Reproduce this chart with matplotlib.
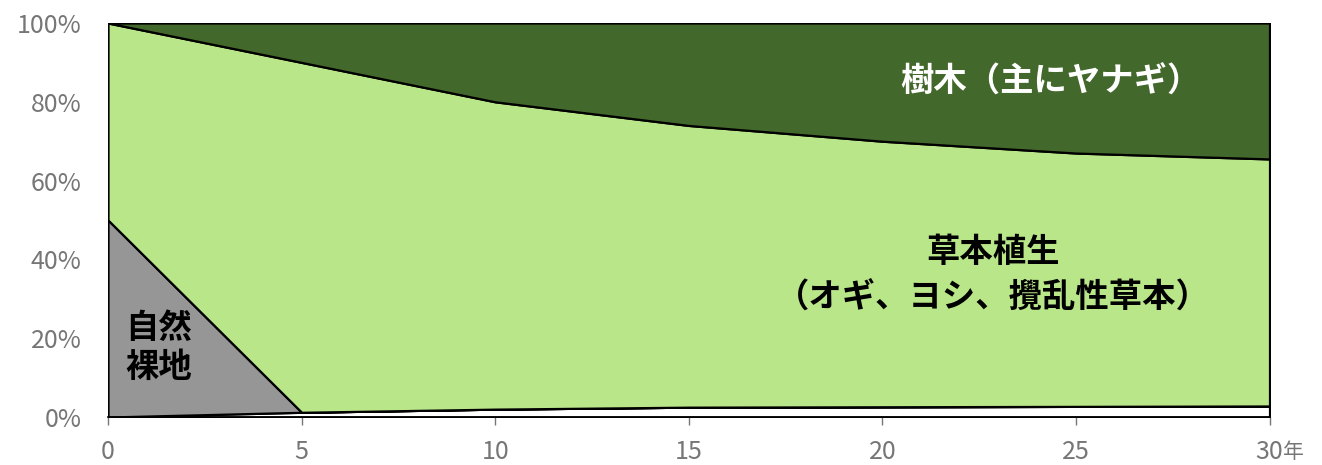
import matplotlib
matplotlib.use("Agg")
import matplotlib.pyplot as plt
from matplotlib.ticker import FuncFormatter

plt.rcParams['font.family'] = ['Noto Sans CJK JP', 'DejaVu Sans']

# 経過年数と各被覆の割合(%)
years = [0, 5, 10, 15, 20, 25, 30]
other = [0, 1.2, 2.0, 2.5, 2.6, 2.7, 2.8]
bare = [50, 0, 0, 0, 0, 0, 0]
grass = [50, 88.8, 78.0, 71.5, 67.4, 64.3, 62.7]
trees = [0, 10.0, 20.0, 26.0, 30.0, 33.0, 34.5]

colors = ['#ffffff', '#969696', '#bae68a', '#43682b']
gray = '#767676'

fig = plt.figure(figsize=(13.22, 4.65), dpi=100)
ax = fig.add_axes([0.0817, 0.1032, 0.8786, 0.8473])

ax.stackplot(years, other, bare, grass, trees, colors=colors,
             edgecolor='black', linewidth=1.6)

ax.set_xlim(0, 30)
ax.set_ylim(0, 100)
ax.set_xticks(years)
ax.set_xticklabels([str(y) for y in years])
ax.set_yticks([0, 20, 40, 60, 80, 100])
ax.yaxis.set_major_formatter(FuncFormatter(lambda v, p: f'{v:.0f}%'))

for s in ['top', 'right', 'left']:
    ax.spines[s].set_visible(False)
ax.spines['bottom'].set_color('black')
ax.spines['bottom'].set_linewidth(1.2)
ax.tick_params(axis='y', length=0, labelsize=18, labelcolor=gray, pad=19)
ax.tick_params(axis='x', length=6, width=1, color=gray,
               labelsize=18, labelcolor=gray, pad=10)

# 単位(年)は最後の目盛りの右隣に
ax.annotate('年', xy=(30, 0), xycoords='data', xytext=(10, -25),
            textcoords='offset points', fontsize=15, color=gray,
            ha='left', va='center')

ax.text(24.35, 85, '樹木（主にヤナギ）', fontsize=24, fontweight='bold',
        color='white', ha='center', va='center')
ax.text(22.85, 41.8, '草本植生', fontsize=24, fontweight='bold',
        color='black', ha='center', va='center')
ax.text(22.85, 30.2, '（オギ、ヨシ、攪乱性草本）', fontsize=24, fontweight='bold',
        color='black', ha='center', va='center')
ax.text(1.3, 17.5, '自然\n裸地', fontsize=24, fontweight='bold',
        color='black', ha='center', va='center', linespacing=1.25)

fig.savefig('out.png', dpi=100)
